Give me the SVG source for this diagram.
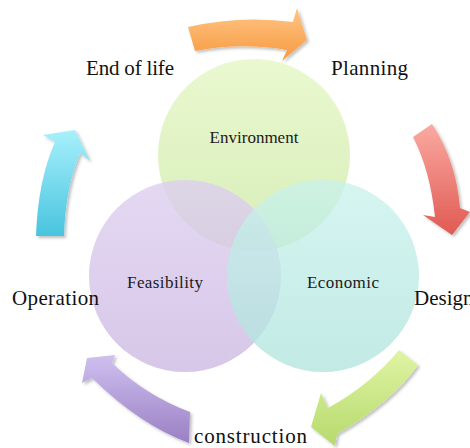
<svg xmlns="http://www.w3.org/2000/svg" width="470" height="448" viewBox="0 0 470 448">
<style>
.lbl{font-family:"Liberation Serif","Times New Roman",serif;font-size:21px;fill:#111}
.in{font-family:"Liberation Serif","Times New Roman",serif;font-size:17px;fill:#1a1a1a}
.arr{filter:url(#sh)}
</style>
<defs>
<filter id="sh" x="-20%" y="-20%" width="150%" height="150%"><feDropShadow dx="2" dy="2" stdDeviation="1.5" flood-color="#000" flood-opacity="0.25"/></filter>
<linearGradient id="gEnv" x1="0" y1="0" x2="0" y2="1"><stop offset="0" stop-color="#e8f8cc"/><stop offset="1" stop-color="#d4ecb2"/></linearGradient>
<linearGradient id="gFea" x1="0" y1="0" x2="0" y2="1"><stop offset="0" stop-color="#ddcff0"/><stop offset="1" stop-color="#cdb9e2"/></linearGradient>
<linearGradient id="gEco" x1="0" y1="0" x2="0" y2="1"><stop offset="0" stop-color="#c8f2ed"/><stop offset="1" stop-color="#aee3db"/></linearGradient>
<linearGradient id="gO" x1="0" y1="0" x2="0" y2="1"><stop offset="0" stop-color="#ffc585"/><stop offset="1" stop-color="#f79a40"/></linearGradient>
<linearGradient id="gR" x1="0" y1="0" x2="0" y2="1"><stop offset="0" stop-color="#faaaa2"/><stop offset="1" stop-color="#e05a52"/></linearGradient>
<linearGradient id="gG" x1="0" y1="0" x2="0" y2="1"><stop offset="0" stop-color="#e0f4a4"/><stop offset="1" stop-color="#b6da6c"/></linearGradient>
<linearGradient id="gP" x1="0" y1="0" x2="0" y2="1"><stop offset="0" stop-color="#cfc0f0"/><stop offset="1" stop-color="#9a80c4"/></linearGradient>
<linearGradient id="gC" x1="0" y1="0" x2="0" y2="1"><stop offset="0" stop-color="#a8f0fc"/><stop offset="1" stop-color="#48c4de"/></linearGradient>
</defs>
<g id="connectors">
<path class="arr" fill="url(#gO)" d="M188,27 Q240,15 293,22 L297,8 L307,40 L282,61 L287,50 Q240,42 195,51 Z"/>
<path class="arr" fill="url(#gR)" d="M413,137 Q430,170 435,217 L423,215 L452,235 L470,212 L460,208 Q456,160 432,124 Z"/>
<path class="arr" fill="url(#gG)" d="M399,350 Q370,385 328,408 L321,393 L311,427 L335,446 L337,434 Q392,402 418,365 Z"/>
<path class="arr" fill="url(#gP)" d="M190,412 Q145,395 112,363 L115,355 L87,358 L82,383 L92,378 Q140,425 189,443 Z"/>
<path class="arr" fill="url(#gC)" d="M36,236 Q38,180 55,142 L43,135 L75,130 L90,161 L80,153 Q65,190 64,236 Z"/>
</g>
<g id="environment"><circle cx="254" cy="155" r="96" fill="url(#gEnv)" opacity="0.92"/><text class="in" x="254" y="143" text-anchor="middle">Environment</text></g>
<g id="feasibility"><circle cx="185" cy="276" r="96" fill="url(#gFea)" opacity="0.8"/></g>
<g id="economic"><circle cx="323" cy="276" r="96" fill="url(#gEco)" opacity="0.75"/></g>
<text class="in" x="127" y="288" textLength="76">Feasibility</text>
<text class="in" x="307" y="288" textLength="72">Economic</text>
<g id="labels">
<text class="lbl" x="86" y="75" textLength="88">End of life</text>
<text class="lbl" x="331" y="75" textLength="77">Planning</text>
<text class="lbl" x="12" y="305" textLength="87">Operation</text>
<text class="lbl" x="414" y="305">Design</text>
<text class="lbl" x="194" y="443" textLength="113">construction</text>
</g>
</svg>
